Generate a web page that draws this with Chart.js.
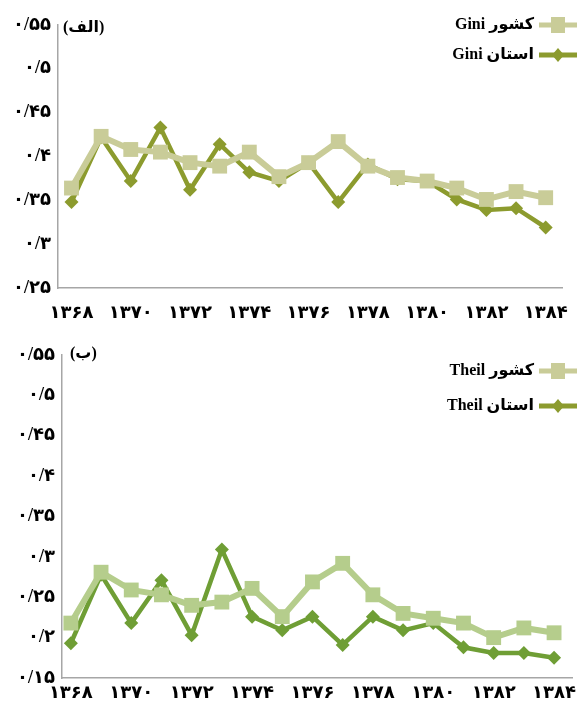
<!DOCTYPE html>
<html>
<head>
<meta charset="utf-8">
<script src="https://cdn.jsdelivr.net/npm/chart.js@4.4.0/dist/chart.umd.min.js"></script>
<style>
  html, body { margin: 0; padding: 0; background: #fff; }
  #wrapTop { position: absolute; left: 0; top: 0; width: 583px; height: 330px; }
  #wrapBottom { position: absolute; left: 0; top: 330px; width: 583px; height: 378px; }
</style>
</head>
<body>
<div id="wrapTop"><canvas id="giniChart"></canvas></div>
<div id="wrapBottom"><canvas id="theilChart"></canvas></div>
<script>
// ---------------- DATA ----------------
const years = [1368, 1369, 1370, 1371, 1372, 1373, 1374, 1375, 1376, 1377, 1378, 1379, 1380, 1381, 1382, 1383, 1384];
const xTickYears = [1368, 1370, 1372, 1374, 1376, 1378, 1380, 1382, 1384];

const giniCountry  = [0.364, 0.423, 0.408, 0.405, 0.393, 0.389, 0.405, 0.377, 0.393, 0.417, 0.389, 0.376, 0.372, 0.364, 0.351, 0.360, 0.353];
const giniProvince = [0.348, 0.422, 0.372, 0.433, 0.362, 0.414, 0.382, 0.372, 0.393, 0.348, 0.391, 0.374, 0.372, 0.351, 0.339, 0.341, 0.319];

const theilCountry  = [0.218, 0.281, 0.259, 0.253, 0.240, 0.244, 0.261, 0.226, 0.269, 0.292, 0.253, 0.230, 0.224, 0.218, 0.200, 0.212, 0.206];
const theilProvince = [0.193, 0.278, 0.218, 0.271, 0.203, 0.309, 0.226, 0.209, 0.226, 0.191, 0.226, 0.209, 0.218, 0.188, 0.181, 0.181, 0.175];

const giniLabels  = ['کشور Gini', 'استان Gini'];
const theilLabels = ['کشور Theil', 'استان Theil'];

// ---------------- HELPERS ----------------
const faDigits = '۰۱۲۳۴۵۶۷۸۹';
function toFa(s) {
    return String(s).replace(/[0-9]/g, d => faDigits[d]).replace('.', '/');
}

const tickFont = { family: '"Liberation Serif", "DejaVu Sans"', size: 18, weight: 'bold' };
const legendFont = 'bold 16px "Liberation Serif", "DejaVu Sans"';
const axisGrey = '#a6a6a6';

// legend drawn at the top right, inside the plot area
const sideLegend = {
    id: 'sideLegend',
    afterDraw(chart, args, opts) {
        const ctx = chart.ctx;
        chart.data.datasets.forEach((ds, i) => {
            const y = opts.rows[i];
            const color = opts.colors[i];
            const x2 = opts.right, x1 = opts.right - 38;
            const cx = (x1 + x2) / 2;
            ctx.save();
            ctx.strokeStyle = color;
            ctx.lineWidth = 5;
            ctx.beginPath(); ctx.moveTo(x1, y); ctx.lineTo(x2, y); ctx.stroke();
            ctx.fillStyle = color;
            if (ds.pointStyle === 'rect') {
                ctx.fillRect(cx - 7, y - 8, 14, 16);
            } else {
                ctx.beginPath();
                ctx.moveTo(cx, y - 7); ctx.lineTo(cx + 6, y); ctx.lineTo(cx, y + 7); ctx.lineTo(cx - 6, y);
                ctx.closePath(); ctx.fill();
            }
            ctx.fillStyle = '#000';
            ctx.font = legendFont;
            ctx.direction = 'rtl';
            ctx.textAlign = 'right';
            ctx.textBaseline = 'middle';
            ctx.fillText(ds.label, x1 - 5, y);
            ctx.restore();
        });
    }
};

// "(الف)" / "(ب)" panel tag
const panelTag = {
    id: 'panelTag',
    afterDraw(chart, args, opts) {
        const ctx = chart.ctx;
        ctx.save();
        ctx.fillStyle = '#000';
        ctx.font = legendFont;
        ctx.direction = 'rtl';
        ctx.textAlign = 'left';
        ctx.textBaseline = 'middle';
        ctx.fillText(opts.text, chart.chartArea.left + opts.dx, opts.y);
        ctx.restore();
    }
};

function makeChart(canvas, cfg) {
    return new Chart(canvas, {
        type: 'line',
        data: {
            datasets: [{
                label: cfg.labels[0],
                data: years.map((yr, i) => ({ x: yr, y: cfg.country[i] })),
                borderColor: cfg.lineColors[0],
                backgroundColor: cfg.lineColors[0],
                borderWidth: 6,
                pointStyle: 'rect',
                pointRadius: 10.5,
                pointBorderWidth: 0,
                tension: 0
            }, {
                label: cfg.labels[1],
                data: years.map((yr, i) => ({ x: yr, y: cfg.province[i] })),
                borderColor: cfg.lineColors[1],
                backgroundColor: cfg.lineColors[1],
                borderWidth: 4.5,
                pointStyle: 'rectRot',
                pointRadius: 7,
                pointBorderWidth: 0,
                tension: 0
            }]
        },
        options: {
            responsive: true,
            maintainAspectRatio: false,
            animation: false,
            events: [],
            clip: false,
            layout: { padding: { top: cfg.padTop, right: 2, left: 0, bottom: 0 } },
            scales: {
                x: {
                    type: 'linear',
                    min: cfg.xMin,
                    max: cfg.xMax,
                    afterBuildTicks: s => { s.ticks = xTickYears.map(v => ({ value: v })); },
                    afterFit: s => { s.height = cfg.xHeight; },
                    grid: { display: false, drawTicks: false },
                    border: { display: true, color: axisGrey, width: 1.5 },
                    ticks: {
                        autoSkip: false,
                        maxRotation: 0,
                        padding: cfg.xPad,
                        color: '#000',
                        font: tickFont,
                        callback: v => toFa(v)
                    }
                },
                y: {
                    min: cfg.yMin,
                    max: cfg.yMax,
                    afterFit: s => { s.width = cfg.yWidth; },
                    grid: { display: false, drawTicks: false },
                    border: { display: true, color: axisGrey, width: 1.5 },
                    ticks: {
                        stepSize: 0.05,
                        padding: 7,
                        color: '#000',
                        font: tickFont,
                        callback: v => toFa(parseFloat(v.toFixed(2)))
                    }
                }
            },
            plugins: {
                legend: { display: false },
                tooltip: { enabled: false },
                sideLegend: { right: 577, rows: cfg.legendRows, colors: ['#c9cc98', '#8c9b2e'] },
                panelTag: { text: cfg.tag, dx: cfg.tagDx, y: cfg.tagY }
            }
        },
        plugins: [sideLegend, panelTag]
    });
}

// ------------ (الف) GINI ------------
makeChart(document.getElementById('giniChart'), {
    labels: giniLabels,
    country: giniCountry,
    province: giniProvince,
    lineColors: ['#c9cc98', '#8c9b2e'],
    xMin: 1367.545, xMax: 1384.555,
    yMin: 0.25, yMax: 0.55,
    padTop: 25, xHeight: 42, xPad: 15, yWidth: 58,
    legendRows: [25, 55],
    tag: '(الف)', tagDx: 5, tagY: 28
});

// ------------ (ب) THEIL ------------
makeChart(document.getElementById('theilChart'), {
    labels: theilLabels,
    country: theilCountry,
    province: theilProvince,
    lineColors: ['#b5cd8c', '#6f9e35'],
    xMin: 1367.707, xMax: 1384.61,
    yMin: 0.15, yMax: 0.55,
    padTop: 25, xHeight: 30, xPad: 5, yWidth: 62,
    legendRows: [41, 76],
    tag: '(ب)', tagDx: 8, tagY: 24
});
</script>
</body>
</html>
